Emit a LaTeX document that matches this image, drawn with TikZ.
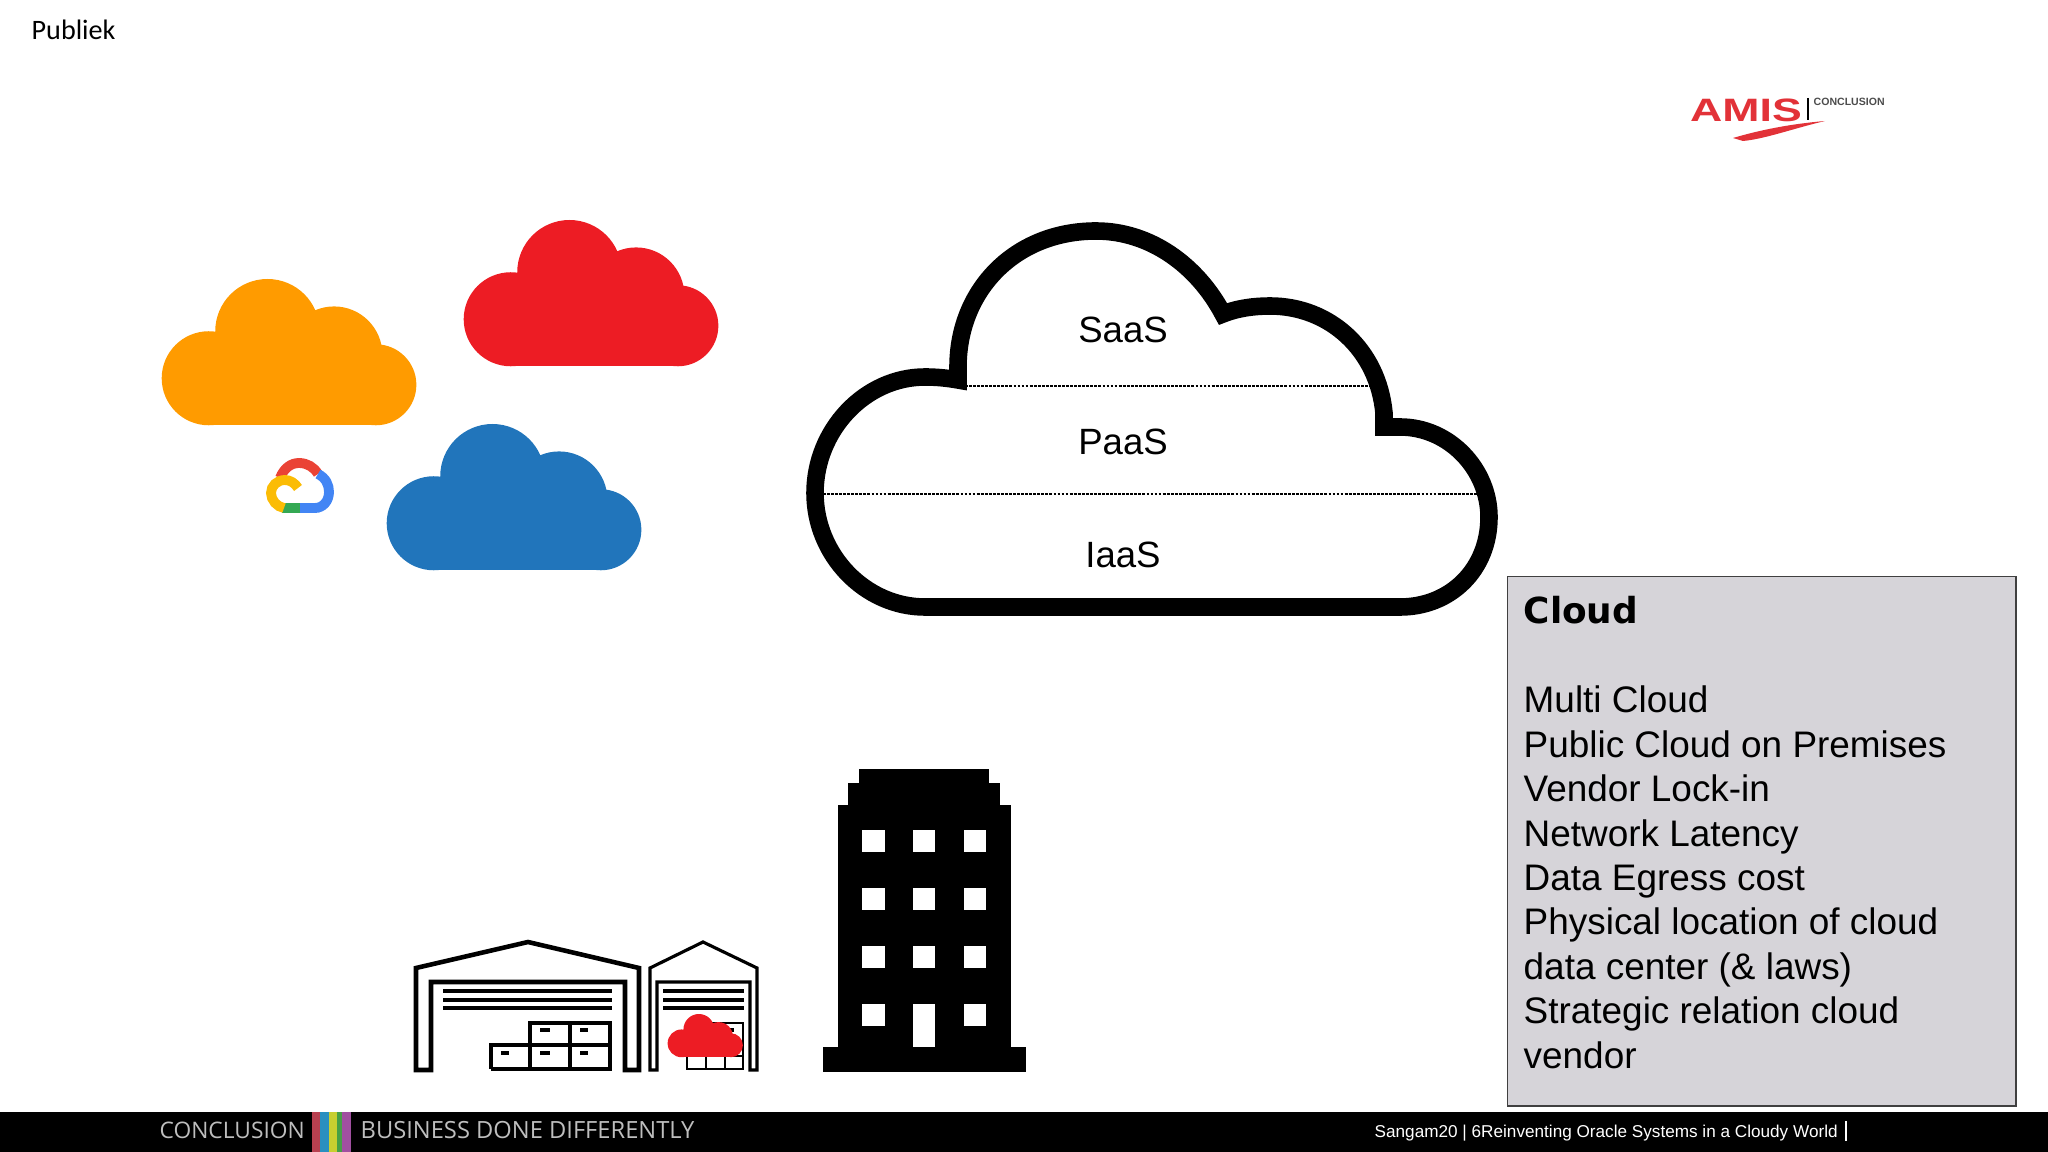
\documentclass[tikz,border=0pt]{standalone}
\usepackage{fontspec}
\setmainfont{Liberation Sans}
\newfontfamily\slidefont{Carlito}
\newfontfamily\barfont{Open Sans}
\newfontfamily\headfont{DejaVu Sans}
\definecolor{cloudorange}{RGB}{255,155,0}
\definecolor{cloudred}{RGB}{237,28,36}
\definecolor{cloudblue}{RGB}{33,117,187}
\definecolor{boxgray}{RGB}{214,212,217}
\definecolor{bargray}{RGB}{190,190,190}
\definecolor{amisred}{RGB}{226,50,56}
\definecolor{gred}{RGB}{234,67,53}
\definecolor{gblue}{RGB}{66,133,244}
\definecolor{ggreen}{RGB}{52,168,83}
\definecolor{gyellow}{RGB}{251,188,5}
\definecolor{stripered}{RGB}{184,64,80}
\definecolor{stripeblue}{RGB}{42,143,192}
\definecolor{stripeyellow}{RGB}{200,207,48}
\definecolor{stripegreen}{RGB}{70,160,70}
\definecolor{stripepurple}{RGB}{160,80,160}
\usetikzlibrary{positioning}
\tikzset{
  px/.style={x=0.01cm,y=-0.01cm},
  layerlabel/.style={font=\fontsize{10.4}{12}\selectfont, inner sep=0pt},
  layerline/.style={line width=0.35pt, dash pattern=on 0.8pt off 0.35pt},
  door/.style={line width=1.3pt, line join=miter},
  slat/.style={line width=1.1pt},
  logoarc/.style={line width=2.8pt},
  flatcloud/.pic={
    \fill[pic actions] (35,76) circle (36);
    \fill[pic actions] (80,40) circle (40);
    \fill[pic actions] (131,58) circle (37);
    \fill[pic actions] (163,81) circle (31);
    \fill[pic actions] (35,60) rectangle (163,112);
    \fill[pic actions] (80,40) rectangle (131,70);
  }
}
\begin{document}
\begin{tikzpicture}[px]
  \useasboundingbox (0,0) rectangle (2048,1152);

  % Corner label and logo
  \node[font=\slidefont\fontsize{8}{10}\selectfont, anchor=west, inner sep=0pt] (publiek) at (31,30) {Publiek};
  \node[font=\bfseries\fontsize{9.2}{10}\selectfont, text=amisred, xscale=1.38, inner sep=0pt] (amis) at (1746,110) {AMIS};
  \draw[line width=0.4pt] (1808,98) -- (1808,120);
  \node[font=\bfseries\fontsize{3}{3.5}\selectfont, anchor=west, inner sep=0pt, text=black!70] (amissub) at (1813,102) {CONCLUSION};
  \fill[amisred] (1825,121) .. controls (1790,124) and (1760,130) .. (1733,138) -- (1743,141) .. controls (1765,139) and (1795,128) .. (1825,121) -- cycle;

  % Three coloured clouds
  \pic[fill=cloudorange, scale=1.306] at (163,279) {flatcloud};
  \pic[fill=cloudred, scale=1.306] at (465,220) {flatcloud};
  \pic[fill=cloudblue, scale=1.306] at (388,424) {flatcloud};

  % Google cloud logo
  \draw[logoarc, gred] (280,478) .. controls (284,468) and (291,463) .. (299,463) .. controls (307,463) and (314,467) .. (318,474);
  \draw[logoarc, gblue] (318,474) .. controls (326,478) and (329,485) .. (329,492) .. controls (329,501) and (323,508) .. (315,508) -- (300,508);
  \draw[logoarc, ggreen] (300,508) -- (282,508);
  \draw[logoarc, gyellow] (284,508) .. controls (277,507) and (271,500) .. (271,493) .. controls (271,486) and (277,480) .. (285,480) .. controls (290,480) and (295,483) .. (298,488);

  % Service model cloud
  \draw[line width=5pt, line join=miter] (925,607) -- (1400,607)
    .. controls (1450,607) and (1489,570) .. (1489,517)
    .. controls (1489,470) and (1450,427) .. (1400,427) -- (1384,427) -- (1384,413)
    .. controls (1378,350) and (1330,306) .. (1270,306)
    .. controls (1255,306) and (1238,308) .. (1223,314)
    .. controls (1197,265) and (1150,231) .. (1096,231)
    .. controls (1015,231) and (958,290) .. (958,367) -- (958,380)
    .. controls (947,378) and (936,377) .. (925,377)
    .. controls (865,377) and (815,430) .. (815,493)
    .. controls (815,555) and (865,607) .. (925,607) -- cycle;
  \draw[layerline] (965,386) -- (1372,386);
  \draw[layerline] (823,494) -- (1479,494);
  \node[layerlabel] (saas) at (1123,330) {SaaS};
  \node[layerlabel] (paas) at (1123,442) {PaaS};
  \node[layerlabel] (iaas) at (1123,555) {IaaS};

  % Large warehouse
  \draw[door] (416,1070) -- (416,968) -- (528,942) -- (639,968) -- (639,1070) -- (625,1070) -- (625,982) -- (431,982) -- (431,1070) -- cycle;
  \foreach \y in {991,1000,1008} \draw[slat] (443,\y) -- (612,\y);
  \draw[door] (530,1069) -- (530,1023) -- (610,1023) -- (610,1069) -- cycle;
  \draw[door] (491,1069) -- (491,1045) -- (610,1045);
  \draw[door] (491,1069) -- (530,1069);
  \draw[door] (570,1023) -- (570,1069);
  % Box handles
  \draw[slat] (540,1030) -- (550,1030);
  \draw[slat] (580,1030) -- (588,1030);
  \draw[slat] (501,1053) -- (509,1053);
  \draw[slat] (540,1053) -- (550,1053);
  \draw[slat] (580,1053) -- (588,1053);

  % Small warehouse
  \draw[line width=0.9pt] (650,1070) -- (650,968) -- (703,942) -- (757,968) -- (757,1070) -- (750,1070) -- (750,982) -- (657,982) -- (657,1070) -- cycle;
  \foreach \y in {991,1000,1008} \draw[slat] (663,\y) -- (744,\y);
  \draw[line width=0.8pt] (687,1023) rectangle (743,1069);
  \draw[line width=0.8pt] (687,1056) -- (743,1056);
  \draw[line width=0.8pt] (706,1040) -- (706,1069);
  \draw[line width=0.8pt] (725,1023) -- (725,1069);
  \draw[slat] (728,1030) -- (734,1030);
  \pic[fill=cloudred, scale=0.386] at (668,1014) {flatcloud};

  % Office building
  \fill (859,769) rectangle (989,783);
  \fill (848,783) rectangle (1000,805);
  \fill (838,805) rectangle (1011,1047);
  \fill (823,1047) rectangle (1026,1072);
  \foreach \y in {830,888,946,1004} {
    \fill[white] (862,\y) rectangle (885,\y+22);
    \fill[white] (964,\y) rectangle (986,\y+22);
  }
  \foreach \y in {830,888,946} \fill[white] (913,\y) rectangle (935,\y+22);
  \fill[white] (913,1004) rectangle (935,1047);

  % Side panel
  \node[draw=black!75, line width=0.4pt, fill=boxgray, minimum width=5.08cm, minimum height=5.29cm, anchor=north west, inner sep=0pt] (panel) at (1507,576) {};
  \node[anchor=north west, align=left, inner sep=0pt, font=\fontsize{10.5}{12.63}\selectfont] (paneltext) at (1523,596) {{\headfont\bfseries\fontsize{10.2}{12.63}\selectfont Cloud}\\[12.63pt]
    Multi Cloud\\
    Public Cloud on Premises\\
    Vendor Lock-in\\
    Network Latency\\
    Data Egress cost\\
    Physical location of cloud\\
    data center (\& laws)\\
    Strategic relation cloud\\
    vendor};

  % Footer bar
  \fill[black] (0,1112) rectangle (2048,1152);
  \node[font=\barfont\fontsize{6.47}{7}\selectfont, text=bargray, anchor=west, inner sep=0pt] (concl) at (159,1130) {CONCLUSION};
  \fill[stripered] (312,1112) rectangle (320,1152);
  \fill[stripeblue] (320,1112) rectangle (329,1152);
  \fill[stripeyellow] (329,1112) rectangle (337,1152);
  \fill[stripegreen] (337,1112) rectangle (342,1152);
  \fill[stripepurple] (342,1112) rectangle (351,1152);
  \node[font=\barfont\fontsize{6.74}{7}\selectfont, text=bargray, anchor=west, inner sep=0pt] (motto) at (360,1130) {BUSINESS DONE DIFFERENTLY};
  \node[font=\fontsize{4.88}{6}\selectfont, text=white, anchor=west, inner sep=0pt] (sangam) at (1374,1133) {Sangam20 | 6Reinventing Oracle Systems in a Cloudy World};
  \draw[white, line width=0.4pt] (1846,1121) -- (1846,1141);
\end{tikzpicture}
\end{document}
